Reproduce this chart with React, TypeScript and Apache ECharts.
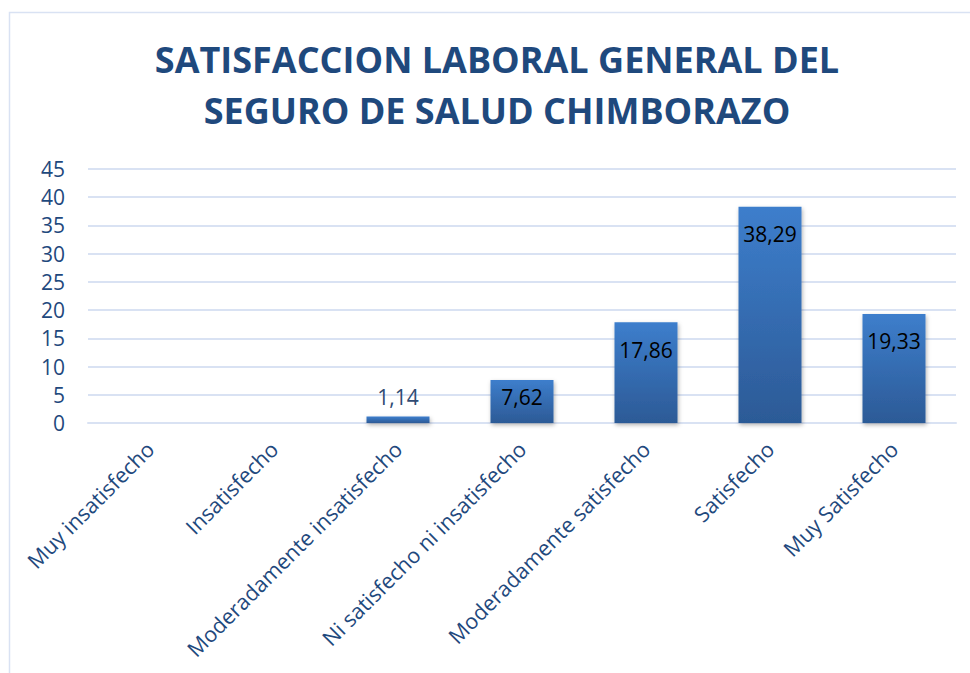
import React, { useEffect, useRef } from "react";
import * as echarts from "echarts";

const titleLines = ["SATISFACCION LABORAL GENERAL DEL", "SEGURO DE SALUD CHIMBORAZO"];
const categories = [
  "Muy insatisfecho",
  "Insatisfecho",
  "Moderadamente insatisfecho",
  "Ni satisfecho ni insatisfecho",
  "Moderadamente satisfecho",
  "Satisfecho",
  "Muy Satisfecho",
];
const values = [0, 0, 1.14, 7.62, 17.86, 38.29, 19.33];
const yMin = 0;
const yMax = 45;
const yInterval = 5;

const FONT = "'Open Sans', 'Liberation Sans', sans-serif";
const BLUE = "#1F497D";

export default function App() {
  const ref = useRef<HTMLDivElement>(null);
  useEffect(() => {
    if (!ref.current) return;
    const chart = echarts.init(ref.current, null, { renderer: "svg" });
    const fmt = (v: number) => (v ? v.toFixed(2).replace(".", ",") : "");
    const data = values.map((v) => {
      if (v > 0 && v < 3) {
        return {
          value: v,
          label: { position: "top", distance: 9, color: "#2F4B73" },
        };
      }
      if (v >= 3 && v < 10) {
        return { value: v, label: { position: "inside", offset: [0, -4] } };
      }
      return v;
    });
    chart.setOption({
      animation: false,
      textStyle: { fontFamily: FONT },
      graphic: [
        {
          type: "rect",
          silent: true,
          shape: { x: 9.5, y: 12.5, width: 1000, height: 700 },
          style: { fill: "none", stroke: "#D9E2F3", lineWidth: 1.5 },
        },
        {
          type: "text",
          style: {
            text: titleLines[0],
            x: 497,
            y: 59,
            textAlign: "center",
            textVerticalAlign: "middle",
            fill: BLUE,
            font: `bold 36px ${FONT}`,
          },
        },
        {
          type: "text",
          style: {
            text: titleLines[1],
            x: 497,
            y: 110,
            textAlign: "center",
            textVerticalAlign: "middle",
            fill: BLUE,
            font: `bold 36px ${FONT}`,
          },
        },
      ],
      grid: { left: 88, right: 14, top: 169, bottom: 250, containLabel: false },
      xAxis: {
        type: "category",
        data: categories,
        axisLine: { show: true, lineStyle: { color: "#D9E2F3", width: 2 } },
        axisTick: { show: false },
        axisLabel: {
          rotate: 45,
          interval: 0,
          margin: 22,
          color: BLUE,
          fontSize: 21.5,
          fontFamily: FONT,
        },
      },
      yAxis: {
        type: "value",
        min: yMin,
        max: yMax,
        interval: yInterval,
        axisLine: { show: false },
        axisTick: { show: false },
        splitLine: { lineStyle: { color: "#D9E2F3", width: 2 } },
        axisLabel: { color: BLUE, fontSize: 21, margin: 23, fontFamily: FONT },
      },
      series: [
        {
          type: "bar",
          data,
          barWidth: 63,
          itemStyle: {
            color: new echarts.graphic.LinearGradient(0, 0, 0, 1, [
              { offset: 0, color: "#3D7ECC" },
              { offset: 1, color: "#2C5A96" },
            ]),
            shadowBlur: 4,
            shadowColor: "rgba(0,0,0,0.3)",
            shadowOffsetY: 2,
            shadowOffsetX: 1,
          },
          label: {
            show: true,
            position: "insideTop",
            distance: 17,
            color: "#000000",
            fontSize: 21,
            fontFamily: FONT,
            formatter: (p: any) => fmt(p.value),
          },
        },
      ],
    });
    return () => chart.dispose();
  }, []);
  return (
    <div
      ref={ref}
      style={{ position: "absolute", left: 0, top: 0, width: 970, height: 673, background: "#fff" }}
    />
  );
}
